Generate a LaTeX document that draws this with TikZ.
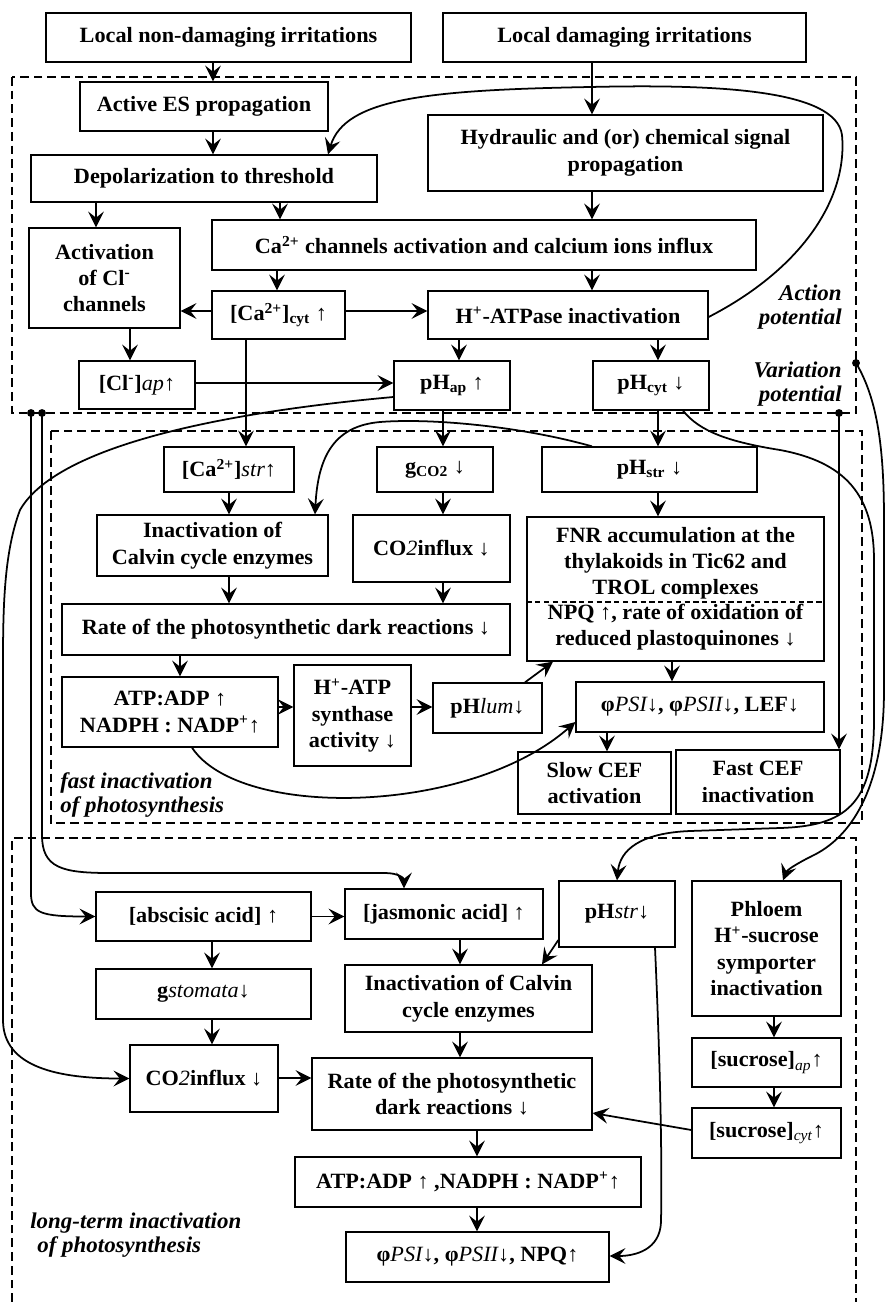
\documentclass[tikz,border=0pt]{standalone}
\usepackage{fontspec}
\setmainfont{Liberation Serif}[FakeStretch=1.02]
\usetikzlibrary{arrows.meta}
\begin{document}
\begin{tikzpicture}[x=0.02cm, y=-0.02cm,
	box/.style={draw, line width=0.75pt, align=center, inner sep=1pt, font=\fontsize{12.4}{15}\selectfont\bfseries},
	region/.style={line width=0.85pt, dash pattern=on 5pt off 2.8pt},
	arr/.style={line width=1pt, -{Stealth[length=9pt, width=9pt, inset=3.5pt]}},
	lbl/.style={align=left, inner sep=0pt, font=\fontsize{12.8}{13.8}\selectfont\bfseries\itshape},
	dot/.style={circle, fill, inner sep=0pt, minimum size=4.5pt}
	]
		\useasboundingbox (0,0) rectangle (886,1302);
		\draw[region] (12,77) rectangle (856,413);
		\draw[region] (51,431) rectangle (862,823);
		\draw[region] (12,1302) -- (12,838) -- (856,838) -- (856,1302);

		\node[box, minimum width=7.30cm, minimum height=0.98cm] (nondam) at (228.5,37.5) {Local non-damaging irritations};
		\node[box, minimum width=7.26cm, minimum height=0.98cm] (dam) at (624.5,37.5) {Local damaging irritations};
		\node[box, minimum width=4.96cm, minimum height=0.98cm] (actes) at (204,106.5) {Active ES propagation};
		\node[box, minimum width=7.90cm, minimum height=1.52cm] (hydr) at (625.5,153) {Hydraulic and (or) chemical signal\\propagation};
		\node[box, minimum width=6.92cm, minimum height=0.94cm] (depol) at (204,178.5) {Depolarization to threshold};
		\node[box, minimum width=3.02cm, minimum height=2.00cm] (clchan) at (104.5,278) {Activation\\of Cl\textsuperscript{-}\\channels};
		\node[box, minimum width=10.88cm, minimum height=1.00cm] (cachan) at (484,245) {Ca\textsuperscript{2+} channels activation and calcium ions influx};
		\node[box, minimum width=2.66cm, minimum height=0.96cm] (cacyt) at (278.5,315) {[Ca\textsuperscript{2+}]\textsubscript{cyt} ↑};
		\node[box, minimum width=5.60cm, minimum height=0.96cm] (hatpase) at (568,315) {H\textsuperscript{+}-ATPase inactivation};
		\node[box, minimum width=2.32cm, minimum height=0.96cm] (clap) at (137,385) {[Cl\textsuperscript{-}]{\mdseries\itshape ap}↑};
		\node[box, minimum width=2.32cm, minimum height=0.98cm] (phap) at (452,385.5) {pH\textsubscript{ap} ↑};
		\node[box, minimum width=2.32cm, minimum height=0.98cm] (phcyt) at (651,385.5) {pH\textsubscript{cyt} ↓};

		\node[box, minimum width=2.60cm, minimum height=0.90cm] (castr) at (229,469.5) {[Ca\textsuperscript{2+}]{\mdseries\itshape str}↑};
		\node[box, minimum width=2.32cm, minimum height=0.90cm] (gco) at (435,469.5) {g\textsubscript{CO2} ↓};
		\node[box, minimum width=4.30cm, minimum height=0.90cm] (phstr) at (649.5,469.5) {pH\textsubscript{str} ↓};
		\node[box, minimum width=4.62cm, minimum height=1.22cm] (calvin) at (212.5,545.5) {Inactivation of\\Calvin cycle enzymes};
		\node[box, minimum width=3.14cm, minimum height=1.34cm] (coinf) at (431.5,548.5) {CO{\mdseries\itshape 2}influx ↓};
		\node[box, minimum width=5.94cm, minimum height=2.88cm, font=\fontsize{12.4}{14.6}\selectfont\bfseries] (fnr) at (675.5,589) {FNR accumulation at the\\thylakoids in Tic62 and\\TROL complexes\\NPQ ↑, rate of oxidation of\\reduced plastoquinones ↓};
		\draw[line width=0.75pt, dash pattern=on 3pt off 2pt] (fnr.west |- 0,602) -- (fnr.east |- 0,602);
		\node[box, minimum width=8.96cm, minimum height=1.02cm] (rate) at (286,629.5) {Rate of the photosynthetic dark reactions ↓};
		\node[box, minimum width=4.32cm, minimum height=1.40cm] (ratio) at (170,712) {ATP:ADP ↑\\NADPH : NADP\textsuperscript{+}↑};
		\node[box, minimum width=2.34cm, minimum height=2.02cm] (synth) at (352.5,715.5) {H\textsuperscript{+}-ATP\\synthase\\activity ↓};
		\node[box, minimum width=2.18cm, minimum height=1.00cm] (phlum) at (487.5,708) {pH{\mdseries\itshape lum}↓};
		\node[box, minimum width=4.96cm, minimum height=1.00cm] (yield) at (700,707) {φ{\mdseries\itshape PSI}↓, φ{\mdseries\itshape PSII}↓, LEF↓};
		\node[box, minimum width=3.06cm, minimum height=1.24cm] (slowcef) at (594.5,783) {Slow CEF\\activation};
		\node[box, minimum width=3.28cm, minimum height=1.28cm] (fastcef) at (758,782) {Fast CEF\\inactivation};

		\node[box, minimum width=4.30cm, minimum height=0.98cm] (aba) at (203.5,916.5) {[abscisic acid] ↑};
		\node[box, minimum width=3.96cm, minimum height=1.00cm] (jasm) at (444,914) {[jasmonic acid] ↑};
		\node[box, minimum width=2.32cm, minimum height=1.32cm] (phstrb) at (617,914) {pH{\mdseries\itshape str}↓};
		\node[box, minimum width=2.98cm, minimum height=2.70cm] (phloem) at (766.5,948.5) {Phloem\\H\textsuperscript{+}-sucrose\\symporter\\inactivation};
		\node[box, minimum width=4.30cm, minimum height=1.00cm] (gstom) at (203.5,994) {g{\mdseries\itshape stomata}↓};
		\node[box, minimum width=4.94cm, minimum height=1.34cm] (calvinb) at (468.5,998.5) {Inactivation of Calvin\\cycle enzymes};
		\node[box, minimum width=2.96cm, minimum height=1.34cm] (coinfb) at (204,1078.5) {CO{\mdseries\itshape 2}influx ↓};
		\node[box, minimum width=5.60cm, minimum height=1.44cm] (rateb) at (452,1094) {Rate of the photosynthetic\\dark reactions ↓};
		\node[box, minimum width=2.98cm, minimum height=0.98cm] (sucap) at (766.5,1062.5) {[sucrose]\textsubscript{\mdseries\itshape ap}↑};
		\node[box, minimum width=2.98cm, minimum height=1.00cm] (succyt) at (766.5,1133) {[sucrose]\textsubscript{\mdseries\itshape cyt}↑};
		\node[box, minimum width=6.92cm, minimum height=1.00cm] (ratiob) at (468,1182) {ATP:ADP ↑ ,NADPH : NADP\textsuperscript{+}↑};
		\node[box, minimum width=5.26cm, minimum height=1.00cm] (yieldb) at (477.5,1257) {φ{\mdseries\itshape PSI}↓, φ{\mdseries\itshape PSII}↓, NPQ↑};

		\node[lbl, align=right, anchor=east] (aplbl) at (842,307) {Action\\potential};
		\node[lbl, align=right, anchor=east] (vplbl) at (842,384) {Variation\\potential};
		\node[lbl, anchor=west] (fastlbl) at (60,795) {fast inactivation\\of photosynthesis};
		\node[lbl, anchor=west] (longlbl) at (30,1235) {long-term inactivation\\\hspace*{4pt}of photosynthesis};

		\node[dot] (vpa) at (31,413) {};
		\node[dot] (vpb) at (42,413) {};
		\node[dot] (vpc) at (839,413) {};
		\node[dot] (vpd) at (856,363) {};

		\draw[arr] (nondam.south -| 213,0) -- (actes.north -| 213,0);
		\draw[arr] (dam.south -| 592,0) -- (hydr.north -| 592,0);
		\draw[arr] (actes.south -| 213,0) -- (depol.north -| 213,0);
		\draw[arr] (depol.south -| 96,0) -- (clchan.north -| 96,0);
		\draw[arr] (depol.south -| 280,0) -- (cachan.north -| 280,0);
		\draw[arr] (hydr.south -| 592,0) -- (cachan.north -| 592,0);
		\draw[arr] (cachan.south -| 277,0) -- (cacyt.north -| 277,0);
		\draw[arr] (cachan.south -| 592,0) -- (hatpase.north -| 592,0);
		\draw[arr] (cacyt.west |- 0,311) -- (clchan.east |- 0,311);
		\draw[arr] (cacyt.east |- 0,311) -- (hatpase.west |- 0,311);
		\draw[arr] (clchan.south -| 130,0) -- (clap.north -| 130,0);
		\draw[arr] (clap.east |- 0,383) -- (phap.west |- 0,383);
		\draw[arr] (hatpase.south -| 459,0) -- (phap.north -| 459,0);
		\draw[arr] (hatpase.south -| 658,0) -- (phcyt.north -| 658,0);
		\draw[arr] (hatpase.east |- 0,317) .. controls (800,270) and (848,200) .. (842,135) .. controls (836,90) and (720,84) .. (590,87) .. controls (430,90) and (345,98) .. (depol.north -| 328,0);
		\draw[arr] (cacyt.south -| 246,0) -- (castr.north -| 246,0);
		\draw[arr] (phap.south -| 443,0) -- (gco.north -| 443,0);
		\draw[arr] (phcyt.south -| 658,0) -- (phstr.north -| 658,0);

		\draw[arr] (castr.south -| 229,0) -- (calvin.north -| 229,0);
		\draw[arr] (gco.south -| 443,0) -- (coinf.north -| 443,0);
		\draw[arr] (phstr.south -| 658,0) -- (fnr.north -| 658,0);
		\draw[arr] (phstr.north -| 592,0) .. controls (520,426) and (430,418) .. (380,422) .. controls (335,426) and (318,455) .. (calvin.north -| 315,0);
		\draw[arr] (calvin.south -| 229,0) -- (rate.north -| 229,0);
		\draw[arr] (coinf.south -| 443,0) -- (rate.north -| 443,0);
		\draw[arr] (rate.south -| 180,0) -- (ratio.north -| 180,0);
		\draw[arr] (ratio.east |- 0,707) -- (synth.west |- 0,707);
		\draw[arr] (synth.east |- 0,707) -- (phlum.west |- 0,707);
		\draw[arr] (phlum.north -| 525,0) -- (fnr.south -| 553,0);
		\draw[arr] (fnr.south -| 672,0) -- (yield.north -| 672,0);
		\draw[arr] (ratio.south -| 192,0) .. controls (240,820) and (470,815) .. (yield.west |- 0,722);
		\draw[arr] (yield.south -| 607,0) -- (slowcef.north -| 607,0);
		\draw[arr] (vpc.center) -- (fastcef.north -| vpc);

		\draw[arr] (vpa.center) -- (31,893) .. controls (31,913) and (40,916.5) .. (aba.west);
		\draw[arr] (vpb.center) -- (42,835) .. controls (42,868) and (62,873) .. (110,873) -- (385,873) .. controls (398,873) and (404,878) .. (jasm.north -| 404,0);
		\draw[arr] (phap.west |- 0,397) .. controls (250,410) and (60,440) .. (20,510) .. controls (5,550) and (3,600) .. (3,660) -- (3,1020) .. controls (3,1068) and (60,1078.5) .. (coinfb.west);
		\draw[arr] (phcyt.south -| 683,0) .. controls (700,432) and (730,442) .. (780,450) .. controls (845,462) and (874,495) .. (874,560) -- (874,720) .. controls (874,805) and (845,826) .. (780,828) -- (690,831) .. controls (640,833) and (620,850) .. (phstrb.north -| 617,0);
		\draw[arr] (vpd.center) .. controls (878,400) and (884,450) .. (884,520) -- (884,690) .. controls (884,790) and (850,838) .. (812,856) .. controls (796,864) and (787,870) .. (phloem.north -| 783,0);
		\draw[arr] (aba.east) -- (jasm.west |- aba.east);
		\draw[arr] (aba.south -| 212,0) -- (gstom.north -| 212,0);
		\draw[arr] (gstom.south -| 212,0) -- (coinfb.north -| 212,0);
		\draw[arr] (coinfb.east |- 0,1078) -- (rateb.west |- 0,1078);
		\draw[arr] (jasm.south -| 460,0) -- (calvinb.north -| 460,0);
		\draw[arr] (calvinb.south -| 460,0) -- (rateb.north -| 460,0);
		\draw[arr] (phstrb.west |- 0,940) -- (calvinb.north -| 542,0);
		\draw[arr] (phloem.south -| 774,0) -- (sucap.north -| 774,0);
		\draw[arr] (sucap.south -| 774,0) -- (succyt.north -| 774,0);
		\draw[arr] (succyt.west |- 0,1130) -- (rateb.east |- 0,1113);
		\draw[arr] (rateb.south -| 477,0) -- (ratiob.north -| 477,0);
		\draw[arr] (ratiob.south -| 477,0) -- (yieldb.north -| 477,0);
		\draw[arr] (phstrb.south -| 655,0) .. controls (661,1080) and (662,1170) .. (661,1222) .. controls (660,1250) and (635,1256) .. (yieldb.east |- 0,1256);
	\end{tikzpicture}
\end{document}
